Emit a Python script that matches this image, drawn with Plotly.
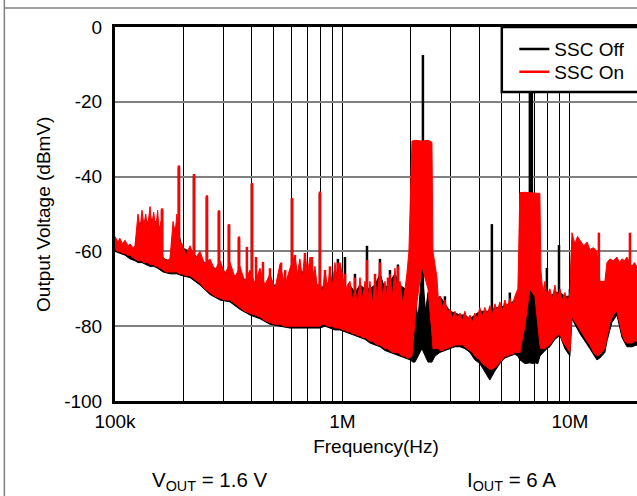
import plotly.graph_objects as go

# frequencies in MHz, levels in dBmV
# SSC On: band envelope (upper / lower)
on_freq = [0.100, 0.103, 0.105, 0.108, 0.1106, 0.114, 0.1164, 0.120, 0.1224, 0.1262,
           0.129, 0.1314, 0.134, 0.1365, 0.139, 0.1425, 0.145, 0.148, 0.151, 0.154,
           0.157, 0.159, 0.1626, 0.168, 0.1745, 0.178, 0.180, 0.184, 0.187, 0.192,
           0.197, 0.205, 0.2136, 0.225, 0.2364, 0.248, 0.2614, 0.275, 0.2894, 0.305,
           0.3203, 0.337, 0.354, 0.372, 0.392, 0.412, 0.4337, 0.456, 0.480, 0.505,
           0.531, 0.559, 0.588, 0.618, 0.634, 0.650, 0.666, 0.684, 0.702, 0.720,
           0.738, 0.757, 0.776, 0.796, 0.817, 0.838, 0.860, 0.881, 0.904, 0.927,
           0.950, 0.975, 1.0, 1.026, 1.052, 1.079, 1.107, 1.135, 1.165, 1.194,
           1.225, 1.256, 1.29, 1.321, 1.355, 1.390, 1.425, 1.462, 1.50, 1.538,
           1.578, 1.618, 1.66, 1.702, 1.745, 1.791, 1.84, 1.884, 1.92, 1.96,
           2.021, 2.10, 2.235, 2.377, 2.474, 2.50, 2.55, 2.603, 2.64, 2.684,
           2.75, 2.822, 2.89, 2.969, 3.04, 3.123, 3.2, 3.285, 3.37, 3.455,
           3.54, 3.634, 3.73, 3.82, 3.92, 4.018, 4.12, 4.227, 4.33, 4.446,
           4.56, 4.677, 4.80, 4.920, 5.05, 5.176, 5.31, 5.445, 5.58, 5.728,
           5.906, 6.026, 6.339, 6.668, 7.015, 7.379, 7.456, 7.607, 7.762, 7.92,
           8.165, 8.37, 8.590, 8.80, 9.040, 9.27, 9.509, 9.75, 10.0, 10.21,
           10.52, 10.8, 11.07, 11.5, 11.9, 12.24, 12.7, 13.14, 13.55, 14.25,
           14.55, 15.0, 15.5, 16.1, 16.5, 16.94, 17.4, 17.81, 18.3, 18.74,
           19.2, 19.72]
on_upper = [-56, -57.5, -56.5, -58, -57, -58.5, -58, -59, -58.5, -50,
            -54, -49, -53, -50, -54, -48, -53, -49.5, -54, -49,
            -56, -52, -61.5, -62.5, -62, -56, -52, -55, -50, -57,
            -58, -61, -58.5, -62, -60, -63.5, -62, -65, -62.5, -66,
            -63, -67, -64, -68, -65, -68.5, -64.5, -69, -66, -70,
            -63.5, -69, -64.5, -61, -66, -62, -67, -60.5, -66, -61.5,
            -67, -64, -70, -68, -71, -65, -70, -64.5, -69, -63,
            -68, -63, -66, -71, -69, -68, -73, -70, -74, -67,
            -73, -68, -74, -68, -74, -67.5, -73, -63, -72, -68,
            -74, -66, -72, -64.5, -72, -68, -74, -70, -66, -60,
            -30.5, -30.3, -30.5, -30.3, -30.8, -60, -64, -67, -73, -72,
            -75, -73, -76, -75.5, -78, -76, -78, -76.5, -78.5, -76,
            -78.5, -77, -79, -76.5, -78, -75, -77.5, -75, -77, -74.5,
            -77, -74, -76, -73.5, -76, -73, -75, -72.5, -74.5, -72,
            -70, -44.3, -44.2, -44.3, -44.2, -44.5, -65, -71, -68, -72,
            -70, -73, -69, -73, -70, -73, -71, -74, -71, -55,
            -58, -56, -57, -58.5, -57.5, -59.5, -59, -60, -68, -68,
            -63, -62, -62.5, -61.5, -63, -62, -62.5, -61.5, -63, -64,
            -63, -64]
on_lower = [-59.5, -60, -60, -60.5, -60.5, -61, -61, -61.5, -62, -62.5,
            -62.5, -62.5, -63, -63, -63, -63.5, -63.5, -63.5, -64, -64,
            -64.5, -64.5, -65, -65.5, -65.5, -65.5, -65.5, -65.5, -65.5, -66,
            -66, -66.5, -66.5, -67.5, -68.5, -70, -71, -72, -72.5, -73,
            -73, -74, -75, -76, -76.5, -77, -77.5, -78.5, -79, -79.5,
            -79.5, -80, -80, -80, -80, -80, -80, -80, -80, -80,
            -80, -80, -80, -80, -79.5, -79.5, -80, -80, -80, -80.5,
            -80.5, -80.5, -81, -81, -81.5, -81.5, -82, -82, -82.5, -82.5,
            -83, -83, -83.5, -84, -84, -84.5, -85, -85, -85.5, -86,
            -86, -86.5, -87, -87, -87, -87.5, -88, -88, -88.5, -88.5,
            -88, -76, -64, -70, -82, -86, -86, -86, -86, -86.5,
            -86.5, -86, -86, -85.5, -85.5, -85, -85, -85, -85, -85.5,
            -86, -86.5, -87, -88, -88.5, -89, -90, -90.5, -91, -91.5,
            -91.5, -91, -90.5, -89.5, -89, -88, -88, -87.5, -87.5, -87,
            -87, -87, -80, -70, -72, -85, -86, -86, -86, -85.5,
            -85, -84, -83, -82.5, -82, -84, -85, -86, -87, -77.5,
            -78.5, -80, -81, -82.5, -84, -85, -87, -88, -87.5, -86,
            -83, -79, -77, -76, -79, -82, -84, -84.5, -84.5, -84.5,
            -84, -84]

# SSC On: narrow spurs (frequency, level at foot, peak)
on_spur_freq = [0.161, 0.191, 0.2225, 0.2536, 0.2865, 0.317, 0.3508, 0.380, 0.400, 0.417,
                0.4472, 0.480, 0.537, 0.560, 0.600, 0.618, 0.684, 0.734, 0.796, 0.838,
                0.881, 0.955, 1.026, 1.135, 1.282, 1.390, 1.462, 1.585, 1.754, 13.41,
                18.36]
on_spur_base = [-60, -62, -64, -66, -68, -69, -70, -72, -72, -73,
                -74, -75, -75, -76, -76, -76, -76, -76, -76, -76,
                -76, -76, -77, -78, -79, -80, -80, -81, -82, -80,
                -80]
on_spur_peak = [-48.5, -37, -39.3, -45, -49, -52.7, -56, -58.8, -41.7, -61.5,
                -62.8, -64.5, -63, -65, -45.7, -61, -60.4, -61.5, -44, -65,
                -64, -63, -66, -67, -62.3, -66, -63, -67, -64, -55,
                -55]

# SSC Off: band envelope (upper / lower)
off_freq = [0.100, 0.105, 0.1106, 0.1164, 0.1224, 0.1262, 0.1314, 0.1365, 0.1425, 0.148,
            0.154, 0.159, 0.1626, 0.1745, 0.180, 0.187, 0.197, 0.2136, 0.2364, 0.2614,
            0.2894, 0.3203, 0.354, 0.392, 0.4337, 0.480, 0.531, 0.588, 0.618, 0.650,
            0.684, 0.720, 0.757, 0.796, 0.838, 0.881, 0.927, 0.975, 1.026, 1.079,
            1.135, 1.194, 1.256, 1.321, 1.390, 1.462, 1.538, 1.618, 1.702, 1.791,
            1.884, 1.982, 2.042, 2.084, 2.15, 2.235, 2.32, 2.377, 2.474, 2.551,
            2.684, 2.822, 2.969, 3.123, 3.285, 3.455, 3.634, 3.82, 4.018, 4.227,
            4.446, 4.677, 4.920, 5.176, 5.445, 5.728, 5.906, 6.026, 6.339, 6.668,
            6.9, 7.015, 7.230, 7.379, 7.607, 7.762, 7.920, 8.165, 8.590, 9.040,
            9.509, 10.0, 10.21, 11.07, 12.24, 13.14, 13.55, 14.25, 14.55, 15.3,
            16.1, 16.94, 17.81, 18.74, 19.72]
off_upper = [-57, -58, -58.5, -59, -59.5, -53, -52, -53, -51, -52,
             -52, -55, -62, -62.5, -55, -53, -59, -60, -62, -64,
             -65, -66, -67, -68, -68.5, -69, -69, -69, -66, -66,
             -65, -66, -68, -70, -69, -68, -66, -65, -71, -69,
             -71, -69, -70, -70, -69, -66, -70, -68, -66, -69,
             -70, -72, -73, -72, -78, -64.5, -76, -71, -76, -73,
             -72, -74, -76, -76.5, -77, -77, -78, -77, -76, -76,
             -76, -75, -75, -74.5, -74, -73, -71, -72, -68, -67,
             -64, -68, -72, -75, -74, -71, -71, -72, -71, -71,
             -72, -72, -57, -59, -61, -62, -69, -69, -65, -64,
             -63, -64, -63.5, -65, -65]
off_lower = [-60, -60.5, -61, -62, -62.5, -63, -63, -63.5, -64, -64,
             -64.5, -65, -65.5, -66, -66, -66, -66.5, -67, -69, -71.5,
             -73, -73.5, -75.5, -77, -78, -79.5, -80, -80.5, -80.5, -80.5,
             -80.5, -80.5, -80.5, -80.5, -80, -80.5, -81, -81, -81.5, -82,
             -82.5, -83, -83.5, -84.5, -85, -85.5, -86.5, -87, -87.5, -88,
             -88.5, -89, -89.6, -89.6, -88, -86, -88, -89.6, -89.6, -88,
             -87, -86.5, -86, -85.5, -85.5, -86, -87, -89, -90, -92,
             -94.4, -92, -90, -88.5, -88, -87.5, -88, -89, -90, -89.8,
             -90, -89.8, -90, -88, -87, -86.5, -86, -85.5, -83.5, -82.5,
             -86, -88, -78, -82, -86, -89, -88.5, -87, -84, -79,
             -77, -83, -85.5, -85.5, -85]

# SSC Off: narrow spurs (frequency, level at foot, peak)
off_spur_freq = [0.161, 0.191, 0.2225, 0.2536, 0.2865, 0.317, 0.3508, 0.400, 0.600, 0.796,
                 0.955, 1.026, 1.135, 1.282, 1.462, 1.618, 1.754, 2.258, 2.822, 4.539,
                 5.445, 6.668, 6.803, 7.920, 8.954, 10.0]
off_spur_base = [-60, -62, -64, -66, -68, -69, -70, -72, -76, -76,
                 -76, -77, -78, -79, -80, -81, -82, -75, -80, -80,
                 -82, -82, -82, -82, -80, -82]
off_spur_peak = [-49, -37.5, -40, -45.5, -49.5, -53, -56.5, -42, -46, -44.5,
                 -62, -61.5, -66, -58.5, -62, -65, -63.5, -7.5, -72, -52.7,
                 -71, -12, -12, -64.4, -58.3, -70]

x_major = [1e5, 1e6, 1e7]
x_major_text = ["100k", "1M", "10M"]
x_minor = [2e5, 3e5, 4e5, 5e5, 6e5, 7e5, 8e5, 9e5,
           2e6, 3e6, 4e6, 5e6, 6e6, 7e6, 8e6, 9e6]
y_tickvals = [-100, -80, -60, -40, -20, 0]
y_ticktext = ["-100", "-80", "-60", "-40", "-20", "0"]

FONT = "Liberation Sans, Arial, sans-serif"


def band_trace(freq, upper, lower, color):
    xs = [f * 1e6 for f in freq] + [f * 1e6 for f in reversed(freq)]
    ys = list(upper) + list(reversed(lower))
    return go.Scatter(x=xs, y=ys, mode="lines", fill="toself", fillcolor=color,
                      line=dict(color=color, width=1), showlegend=False,
                      hoverinfo="skip")


def spur_trace(freq, base, peak, color, name, legend):
    xs, ys = [], []
    for f, b, p in zip(freq, base, peak):
        xs += [f * 1e6, f * 1e6, None]
        ys += [b, p, None]
    return go.Scatter(x=xs, y=ys, mode="lines", name=name, legend=legend,
                      line=dict(color=color, width=2.5))


fig = go.Figure()
fig.add_trace(band_trace(off_freq, off_upper, off_lower, "#000000"))
fig.add_trace(spur_trace(off_spur_freq, off_spur_base, off_spur_peak, "#000000", "SSC Off", "legend"))
fig.add_trace(band_trace(on_freq, on_upper, on_lower, "#ff0000"))
fig.add_trace(spur_trace(on_spur_freq, on_spur_base, on_spur_peak, "#ff0000", "SSC On", "legend2"))

leg = dict(xanchor="left", yanchor="middle", bgcolor="rgba(0,0,0,0)", borderwidth=0,
           font=dict(size=19))
fig.update_layout(
    width=637, height=496,
    margin=dict(l=115, r=0, t=27, b=95),
    paper_bgcolor="white", plot_bgcolor="white",
    font=dict(family=FONT, size=19, color="black"),
    legend=dict(leg, x=0.765, y=0.941),
    legend2=dict(leg, x=0.765, y=0.880),
    shapes=[
        # legend frame (runs off the right edge like the original)
        dict(type="rect", xref="paper", yref="paper", x0=0.741, x1=1.1, y0=0.826, y1=1.0,
             line=dict(color="black", width=2.5), fillcolor="white", layer="above"),
        # page frame lines
        dict(type="line", xref="paper", yref="paper", x0=-0.212, x1=1.1, y0=1.051, y1=1.051,
             line=dict(color="#808080", width=1.5)),
        dict(type="line", xref="paper", yref="paper", x0=-0.212, x1=-0.212, y0=-0.26, y1=1.08,
             line=dict(color="#808080", width=1.5)),
    ],
    annotations=[
        dict(text="Output Voltage (dBmV)", xref="paper", yref="paper", x=-0.138, y=0.5,
             textangle=-90, xanchor="center", yanchor="middle", showarrow=False,
             font=dict(size=19)),
        dict(text="V<sub>OUT</sub> = 1.6 V", xref="paper", yref="paper", x=0.182, y=-0.214,
             xanchor="center", yanchor="middle", showarrow=False, font=dict(size=20.5)),
        dict(text="I<sub>OUT</sub> = 6 A", xref="paper", yref="paper", x=0.759, y=-0.214,
             xanchor="center", yanchor="middle", showarrow=False, font=dict(size=20.5)),
    ],
)

fig.update_xaxes(type="log", range=[5, 7.295], tickvals=x_major, ticktext=x_major_text,
                 showgrid=True, gridcolor="#000000", gridwidth=1,
                 minor=dict(tickvals=x_minor, showgrid=True, gridcolor="#000000",
                            gridwidth=1, ticks=""),
                 showline=True, linecolor="black", linewidth=3, mirror=True,
                 ticks="", ticklabelstandoff=1,
                 title=dict(text="Frequency(Hz)", standoff=9, font=dict(size=19)))
fig.update_yaxes(range=[-100, 0], tickvals=y_tickvals, ticktext=y_ticktext,
                 showgrid=True, gridcolor="#808080", gridwidth=1.5, zeroline=False,
                 showline=True, linecolor="black", linewidth=3, mirror=False,
                 ticks="", ticklabelstandoff=6)

fig.write_html("out.html", config={"displayModeBar": False},
               post_script="document.body.style.margin='0';document.body.style.overflow='hidden';")
